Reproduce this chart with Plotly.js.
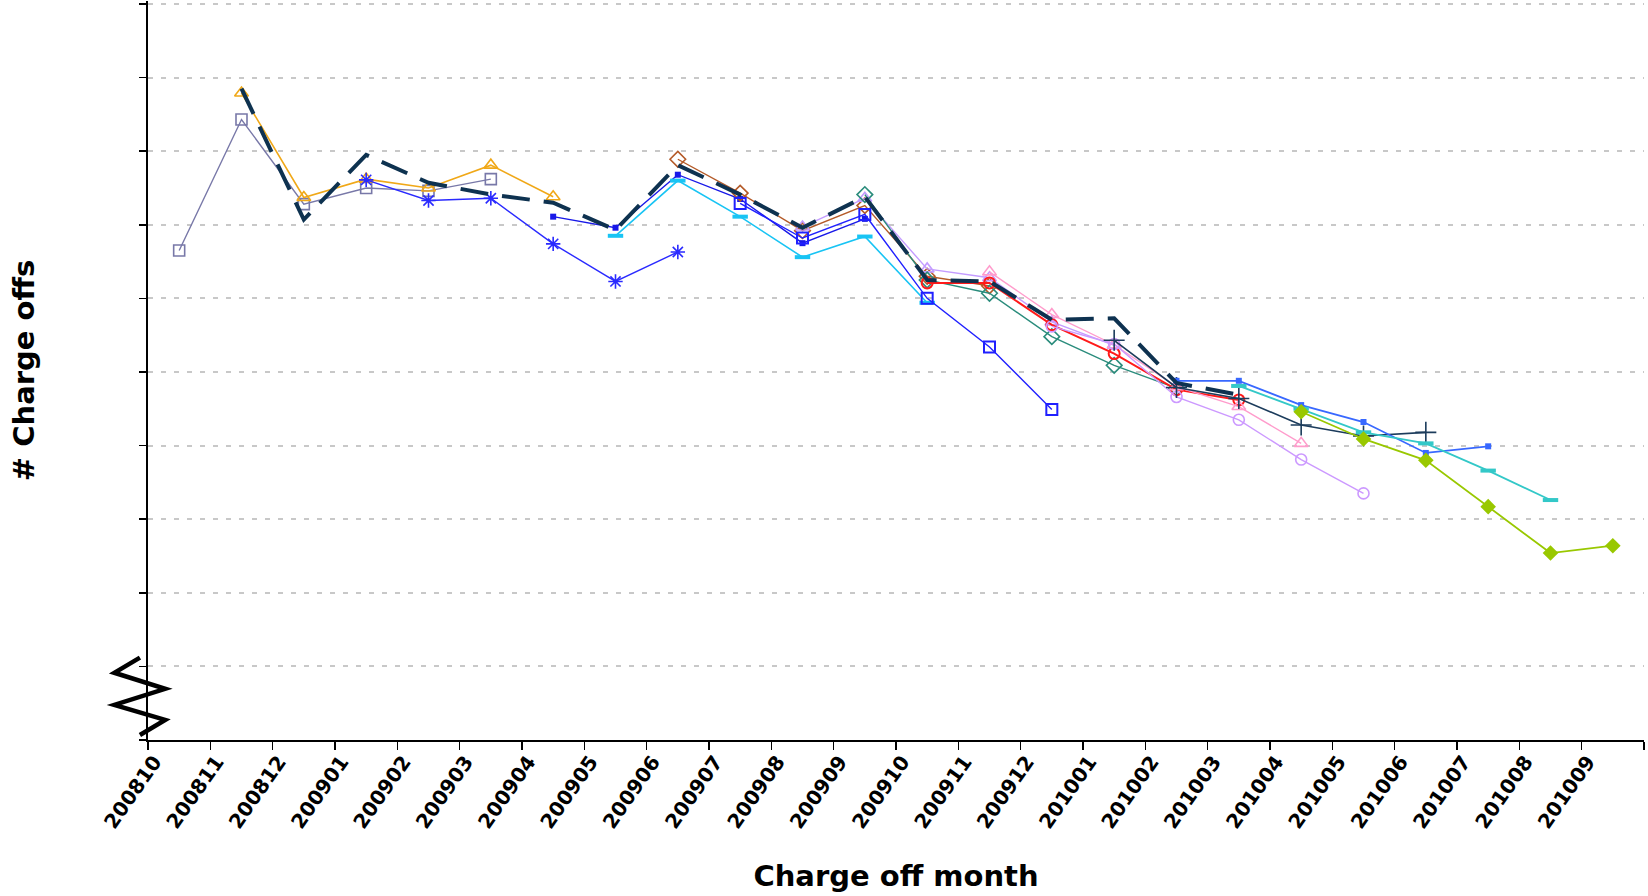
<!DOCTYPE html>
<html>
<head>
<meta charset="utf-8">
<script src="https://cdn.plot.ly/plotly-3.0.1.min.js"></script>
<style>
html,body{margin:0;padding:0;background:#fff;}
#chart{width:1648px;height:896px;}
</style>
</head>
<body>
<div id="chart"></div>
<script>
// Charge off months (categories)
const months = ['200810','200811','200812','200901','200902','200903','200904','200905','200906','200907','200908','200909','200910','200911','200912','201001','201002','201003','201004','201005','201006','201007','201008','201009'];

// Series values (null = no value for that month)
const N = null;
const sGraySq     = [6.65,8.43,7.28,7.50,7.46,7.62,N,N,N,N,N,N,N,N,N,N,N,N,N,N,N,N,N,N];
const sOrangeTri  = [N,8.79,7.37,7.62,7.50,7.81,7.38,N,N,N,N,N,N,N,N,N,N,N,N,N,N,N,N,N];
const sBlueStar   = [N,N,N,7.61,7.33,7.36,6.74,6.23,6.63,N,N,N,N,N,N,N,N,N,N,N,N,N,N,N];
const sBlueDot    = [N,N,N,N,N,N,7.11,6.96,7.68,7.35,6.75,7.08,N,N,N,N,N,N,N,N,N,N,N,N];
const sCyan       = [N,N,N,N,N,N,N,6.85,7.60,7.11,6.56,6.84,5.94,N,N,N,N,N,N,N,N,N,N,N];
const sBrownDia   = [N,N,N,N,N,N,N,N,7.89,7.43,6.92,7.26,6.30,6.17,N,N,N,N,N,N,N,N,N,N];
const sBlueSq     = [N,N,N,N,N,N,N,N,N,7.29,6.82,7.14,6.00,5.34,4.49,N,N,N,N,N,N,N,N,N];
const sLavTri     = [N,N,N,N,N,N,N,N,N,N,6.97,7.36,6.40,6.28,5.68,5.36,N,N,N,N,N,N,N,N];
const sTealDia    = [N,N,N,N,N,N,N,N,N,N,N,7.41,6.25,6.07,5.48,5.09,4.78,N,N,N,N,N,N,N];
const sRedCirc    = [N,N,N,N,N,N,N,N,N,N,N,N,6.21,6.21,5.64,5.25,4.76,4.62,N,N,N,N,N,N];
const sPinkTri    = [N,N,N,N,N,N,N,N,N,N,N,N,N,6.36,5.78,5.37,4.80,4.53,4.03,N,N,N,N,N];
const sLavCirc    = [N,N,N,N,N,N,N,N,N,N,N,N,N,N,5.62,5.38,4.66,4.35,3.81,3.35,N,N,N,N];
const sNavyPlus   = [N,N,N,N,N,N,N,N,N,N,N,N,N,N,N,5.43,4.79,4.64,4.28,4.13,4.18,N,N,N];
const sBrightBlue = [N,N,N,N,N,N,N,N,N,N,N,N,N,N,N,N,4.88,4.88,4.55,4.32,3.90,3.99,N,N];
const sTurq       = [N,N,N,N,N,N,N,N,N,N,N,N,N,N,N,N,N,4.81,4.50,4.18,4.03,3.66,3.26,N];
const sGreenDia   = [N,N,N,N,N,N,N,N,N,N,N,N,N,N,N,N,N,N,4.46,4.09,3.80,3.17,2.54,2.64];
const sDashed     = [N,8.85,7.07,7.95,7.57,7.41,7.30,6.93,7.81,7.41,6.96,7.38,6.25,6.23,5.71,5.73,4.85,4.69,N,N,N,N,N,N];

function tr(y, color, symbol, size, lw, mlw) {
  return {
    x: months, y: y, type: 'scatter', mode: 'lines+markers',
    connectgaps: false, hoverinfo: 'skip',
    line: {color: color, width: lw},
    marker: {symbol: symbol, size: size, color: color, line: {color: color, width: mlw}}
  };
}

const data = [
  tr(sGraySq, '#7878a8', 'square-open', 11, 1.4, 1.6),
  tr(sOrangeTri, '#f0a818', 'triangle-up-open', 12, 1.6, 1.6),
  tr(sBlueStar, '#2a2aff', 'asterisk-open', 12, 1.4, 1.6),
  tr(sBlueDot, '#1818e8', 'square', 6, 1.4, 0),
  tr(sCyan, '#18c4f4', 'line-ew', 11, 1.6, 4),
  tr(sBrownDia, '#b45a28', 'diamond-open', 12, 1.4, 1.6),
  tr(sBlueSq, '#2020ff', 'square-open', 11, 1.4, 2),
  tr(sLavTri, '#c49cff', 'triangle-up-open', 12, 1.4, 1.6),
  tr(sTealDia, '#2a8c7c', 'diamond-open', 12, 1.4, 1.6),
  tr(sRedCirc, '#ff1a1a', 'circle-open', 11, 2, 2),
  tr(sPinkTri, '#ff9ccc', 'triangle-up-open', 12, 1.4, 1.6),
  tr(sLavCirc, '#cc99ff', 'circle-open', 11, 1.4, 1.6),
  tr(sNavyPlus, '#1c3c5c', 'cross-thin-open', 15, 1.6, 1.6),
  tr(sBrightBlue, '#3868ff', 'square', 6, 1.8, 0),
  tr(sTurq, '#33c8c8', 'line-ew', 11, 1.8, 4),
  tr(sGreenDia, '#99c800', 'diamond', 12, 1.8, 0),
  {x: months, y: sDashed, type: 'scatter', mode: 'lines', hoverinfo: 'skip',
   connectgaps: false, line: {color: '#0e3250', width: 4, dash: '28px,14px'}}
];

const fontFam = 'DejaVu Sans, Verdana, sans-serif';

const layout = {
  width: 1648, height: 896,
  margin: {l: 148, r: 4, t: 1, b: 156},
  paper_bgcolor: '#ffffff', plot_bgcolor: '#ffffff',
  showlegend: false,
  font: {family: fontFam, color: '#000'},
  xaxis: {
    type: 'category', categoryorder: 'array', categoryarray: months,
    range: [-0.5, 23.5], tickson: 'boundaries',
    ticks: 'outside', ticklen: 8, tickwidth: 1.5, tickcolor: '#000',
    showline: true, linecolor: '#000', linewidth: 2,
    showgrid: false, zeroline: false,
    tickangle: -55, ticklabelshift: -25,
    tickfont: {family: fontFam, size: 20, weight: 700, color: '#000'},
    title: {text: 'Charge off month', font: {family: fontFam, size: 29, weight: 700, color: '#000'}, standoff: 34}
  },
  yaxis: {
    range: [0, 10.04], tick0: 0, dtick: 1,
    showticklabels: false,
    ticks: 'outside', ticklen: 7, tickwidth: 1.5, tickcolor: '#000',
    showline: true, linecolor: '#000', linewidth: 2,
    showgrid: true, gridcolor: '#c8c8c8', gridwidth: 2, griddash: '5px,8px',
    zeroline: false,
    title: {text: '# Charge offs', font: {family: fontFam, size: 29, weight: 700, color: '#000'}, standoff: 96}
  },
  shapes: [{
    type: 'path', xref: 'paper', yref: 'paper',
    path: 'M -0.0054,0.1114 L -0.0225,0.0910 L 0.0115,0.0693 L -0.0225,0.0476 L 0.0115,0.0272 L -0.0054,0.0068',
    line: {color: '#000', width: 4.5}
  }]
};

Plotly.newPlot('chart', data, layout, {staticPlot: true, displayModeBar: false});
</script>
</body>
</html>
